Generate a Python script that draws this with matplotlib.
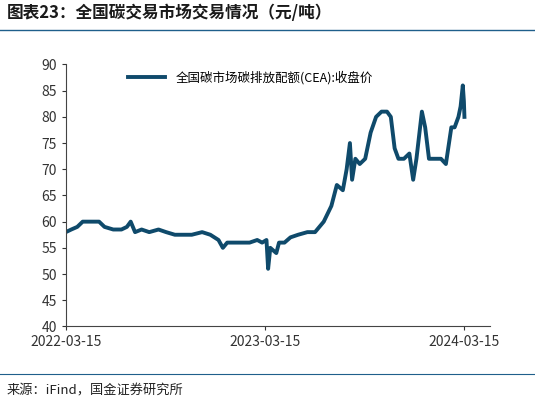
import matplotlib.pyplot as plt
import matplotlib.dates as mdates
import pandas as pd

plt.rcParams['font.family'] = ['Noto Sans CJK SC', 'DejaVu Sans']

# CEA closing price
dates = ["2022-03-15", "2022-03-25", "2022-04-05", "2022-04-15", "2022-05-01", "2022-05-15",
         "2022-05-25", "2022-06-10", "2022-06-25", "2022-07-05", "2022-07-12", "2022-07-20",
         "2022-08-01", "2022-08-15", "2022-09-01", "2022-09-15", "2022-10-01", "2022-10-15",
         "2022-11-01", "2022-11-20", "2022-12-05", "2022-12-20", "2022-12-28", "2023-01-05",
         "2023-01-15", "2023-02-01", "2023-02-15", "2023-03-01", "2023-03-10", "2023-03-18",
         "2023-03-21", "2023-03-25", "2023-04-05", "2023-04-10", "2023-04-20", "2023-05-01",
         "2023-05-15", "2023-06-01", "2023-06-15", "2023-07-01", "2023-07-15", "2023-07-25",
         "2023-08-05", "2023-08-12", "2023-08-18", "2023-08-22", "2023-08-28", "2023-09-05",
         "2023-09-15", "2023-09-25", "2023-10-05", "2023-10-15", "2023-10-25", "2023-11-01",
         "2023-11-08", "2023-11-15", "2023-11-25", "2023-12-05", "2023-12-12", "2023-12-18",
         "2023-12-28", "2024-01-03", "2024-01-10", "2024-01-20", "2024-02-01", "2024-02-10",
         "2024-02-20", "2024-02-26", "2024-03-04", "2024-03-08", "2024-03-12", "2024-03-14",
         "2024-03-15"]
price = [58, 58.5, 59, 60, 60, 60, 59, 58.5, 58.5, 59, 60, 58, 58.5, 58, 58.5, 58, 57.5, 57.5,
         57.5, 58, 57.5, 56.5, 55, 56, 56, 56, 56, 56.5, 56, 56.5, 51, 55, 54, 56, 56, 57,
         57.5, 58, 58, 60, 63, 67, 66, 70, 75, 68, 72, 71, 72, 77, 80, 81, 81, 80, 74, 72,
         72, 73, 68, 72, 81, 78, 72, 72, 72, 71, 78, 78, 80, 82, 86, 83, 80]

s = pd.Series(price, index=pd.to_datetime(dates))
line_color = "#0f4a6b"

fig = plt.figure(figsize=(5.35, 4.03), dpi=100)
ax = fig.add_axes([0.123, 0.19, 0.793, 0.65])
ax.plot(s.index, s.values, color=line_color, lw=2.8,
        label="全国碳市场碳排放配额(CEA):收盘价")
ax.set_ylim(40, 90)
ax.set_yticks(range(40, 91, 5))
ax.set_xlim(pd.Timestamp("2022-03-15"), pd.Timestamp("2024-05-01"))
ax.set_xticks(pd.to_datetime(["2022-03-15", "2023-03-15", "2024-03-15"]))
ax.xaxis.set_major_formatter(mdates.DateFormatter("%Y-%m-%d"))
for sp in ["top", "right"]:
    ax.spines[sp].set_visible(False)
ax.spines["left"].set_color("#444444")
ax.spines["bottom"].set_color("#444444")
ax.tick_params(labelsize=10, colors="#333333", length=3)
ax.legend(loc="upper left", bbox_to_anchor=(0.12, 1.02), frameon=False, fontsize=9,
          handlelength=3)

fig.text(0.012, 0.955, "图表23：全国碳交易市场交易情况（元/吨）", fontsize=12,
         fontweight="bold", color="#1a1a1a", style="italic")
fig.add_artist(plt.Line2D([0.0, 1.0], [0.925, 0.925], color="#1f5f8b", lw=1))
fig.add_artist(plt.Line2D([0.0, 1.0], [0.072, 0.072], color="#1f5f8b", lw=0.8))
fig.text(0.012, 0.02, "来源：iFind，国金证券研究所", fontsize=9.5, color="#222222")

fig.savefig("out.png", dpi=100)
